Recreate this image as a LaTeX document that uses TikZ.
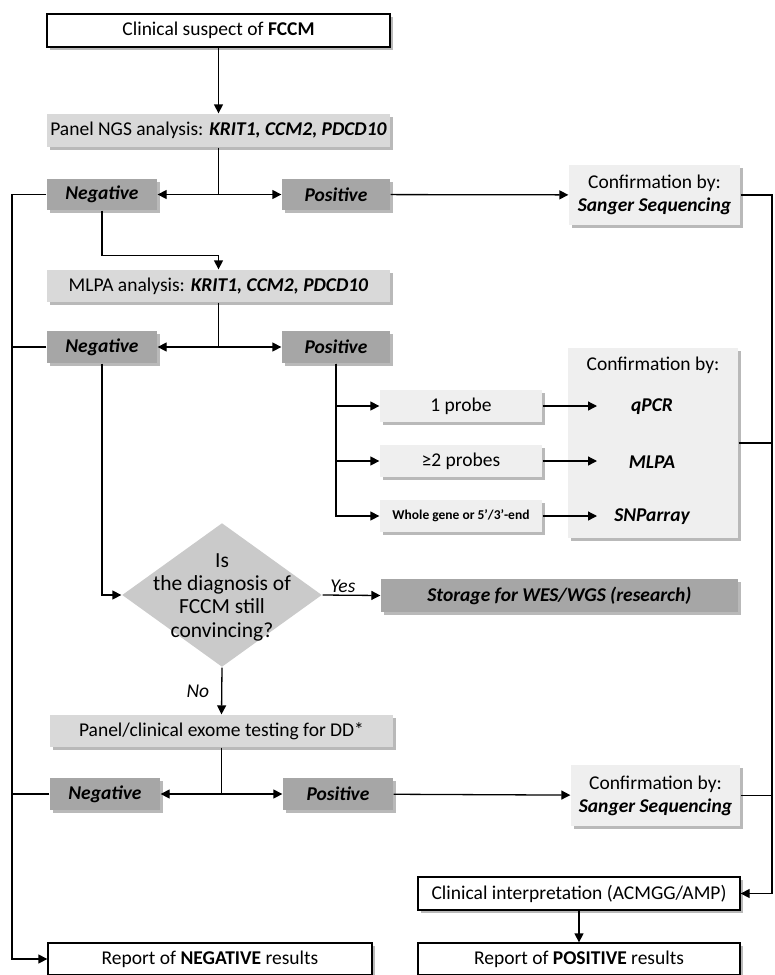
\documentclass[tikz,border=0pt]{standalone}
\usepackage{fontspec}
\setmainfont{Carlito}
\usetikzlibrary{arrows.meta, shapes.geometric, shadows}
\usepackage{xcolor}
\definecolor{boxlight}{HTML}{EFEFEF}
\definecolor{boxmid}{HTML}{D9D9D9}
\definecolor{boxdark}{HTML}{A6A6A6}
\definecolor{diamondgray}{HTML}{CACACA}

\begin{document}
\begin{tikzpicture}[x=1pt, y=-1pt, >={Triangle[length=9pt,width=9pt]},
                line width=1.3pt,
                every node/.style={font=\fontsize{19.5}{23}\selectfont, inner sep=2pt, align=center},
                boxshadow/.style={drop shadow={shadow xshift=2.5pt, shadow yshift=-2.5pt, fill=black!55, opacity=.5}},
                whitebox/.style={draw, fill=white, boxshadow},
                midbox/.style={fill=boxmid, boxshadow},
                lightbox/.style={fill=boxlight, boxshadow},
                darkbox/.style={fill=boxdark, boxshadow, font=\fontsize{19.5}{23}\selectfont\bfseries\itshape},
                answer/.style={font=\fontsize{19.5}{23}\selectfont\itshape}]

                \useasboundingbox (0,0) rectangle (775,975);

                % first round: NGS panel
                \node[whitebox, minimum width=343pt, minimum height=33pt] (suspect) at (218.5,30.5) {Clinical suspect of \textbf{FCCM}};
                \node[midbox, minimum width=343pt, minimum height=33pt] (ngs) at (218.5,130.5) {Panel NGS analysis: \textbf{\textit{KRIT1, CCM2, PDCD10}}};
                \node[darkbox, minimum width=110pt, minimum height=31pt] (neg1) at (102,194.5) {Negative};
                \node[darkbox, minimum width=108pt, minimum height=31pt] (pos1) at (336,194.5) {Positive};
                \node[lightbox, minimum width=171pt, minimum height=60pt] (conf1) at (654.5,195) {Confirmation by:\\\textbf{\textit{Sanger Sequencing}}};

                % second round: MLPA
                \node[midbox, minimum width=343pt, minimum height=32pt] (mlpa) at (218.5,286) {MLPA analysis: \textbf{\textit{KRIT1, CCM2, PDCD10}}};
                \node[darkbox, minimum width=110pt, minimum height=32pt] (neg2) at (102,347) {Negative};
                \node[darkbox, minimum width=108pt, minimum height=32pt] (pos2) at (336,347) {Positive};
                \node[lightbox, minimum width=162pt, minimum height=32pt] (probe1) at (461,406) {1 probe};
                \node[lightbox, minimum width=162pt, minimum height=32pt] (probe2) at (461,461) {≥2 probes};
                \node[lightbox, minimum width=162pt, minimum height=32pt, font=\fontsize{13.5}{16}\selectfont\bfseries] (probe3) at (461,516) {Whole gene or 5’/3’-end};
                \node[lightbox, minimum width=170pt, minimum height=190pt] (confbig) at (653,443) {};
                \node (conftitle) at (653,365) {Confirmation by:};
                \node[font=\fontsize{19.5}{23}\selectfont\bfseries\itshape] (qpcr) at (652,407) {qPCR};
                \node[font=\fontsize{19.5}{23}\selectfont\bfseries\itshape] (mlpaconf) at (652,462) {MLPA};
                \node[font=\fontsize{19.5}{23}\selectfont\bfseries\itshape] (snp) at (652,517) {SNParray};
                \coordinate (tipx) at (597,0);

                % decision
                \node[diamond, fill=diamondgray, minimum width=200pt, minimum height=144pt, inner sep=0pt] (diag) at (222,595) {};
                \node[font=\fontsize{21.5}{23.3}\selectfont] (diagtext) at (222,597) {Is\\the diagnosis of\\FCCM still\\convincing?};
                \node[darkbox, minimum width=357pt, minimum height=33pt] (storage) at (559.5,595.5) {Storage for WES/WGS (research)};

                % third round: differential diagnosis
                \node[midbox, minimum width=343pt, minimum height=32pt] (ddtest) at (221.5,731) {Panel/clinical exome testing for DD*};
                \node[darkbox, minimum width=110pt, minimum height=32pt] (neg3) at (105,794) {Negative};
                \node[darkbox, minimum width=110pt, minimum height=32pt] (pos3) at (338,794) {Positive};
                \node[lightbox, minimum width=169pt, minimum height=61pt] (conf3) at (655.5,795.5) {Confirmation by:\\\textbf{\textit{Sanger Sequencing}}};

                % reports
                \node[whitebox, minimum width=322pt, minimum height=33pt] (interp) at (579,893.5) {Clinical interpretation (ACMGG/AMP)};
                \node[whitebox, minimum width=324pt, minimum height=32pt] (repneg) at (210,959) {Report of \textbf{NEGATIVE} results};
                \node[whitebox, minimum width=322pt, minimum height=32pt] (reppos) at (579,959) {Report of \textbf{POSITIVE} results};

                \coordinate (j1) at (218.5,194.5);
                \coordinate (j2) at (218.5,347);
                \coordinate (j3) at (221.5,794);
                \coordinate (lbot) at (12,959);
                \coordinate (rbot) at (772,893.5);

                \draw[->] (suspect) -- (ngs);
                \draw (ngs.south) -- (j1);
                \path[->] (j1) edge (neg1)
                               edge (pos1)
                          (pos1) edge (conf1);
                \draw[->] (neg1.south) -- ++(0,45) -| (mlpa.north);
                \draw (mlpa.south) -- (j2);
                \path[->] (j2) edge (neg2)
                               edge (pos2);
                \foreach \p in {probe1, probe2, probe3} {
                    \draw[->] (pos2.south) |- (\p.west);
                    \draw[->] (\p.east) -- (\p.east -| tipx);
                }
                \draw (confbig.east) -- (confbig.east -| rbot);
                \draw[->] (neg2.south) |- (diag.west);
                \draw[->] (diag.east) -- node[answer, above, pos=.35] {Yes} (storage.west);
                \draw[->] (diag.south) -- node[answer, left, inner sep=12pt] {No} (ddtest.north);
                \draw (ddtest.south) -- (j3);
                \path[->] (j3) edge (neg3)
                               edge (pos3)
                          (pos3) edge (conf3);
                \draw (conf3.east) -- (conf3.east -| rbot);

                % collecting lines
                \draw[->] (neg1.west) -| (lbot) -- (repneg.west);
                \draw (neg2.west) -- (neg2.west -| lbot);
                \draw (neg3.west) -- (neg3.west -| lbot);
                \draw[->] (conf1.east) -| (rbot) -- (interp.east);
                \draw[->] (interp) -- (reppos);

            \end{tikzpicture}
\end{document}
